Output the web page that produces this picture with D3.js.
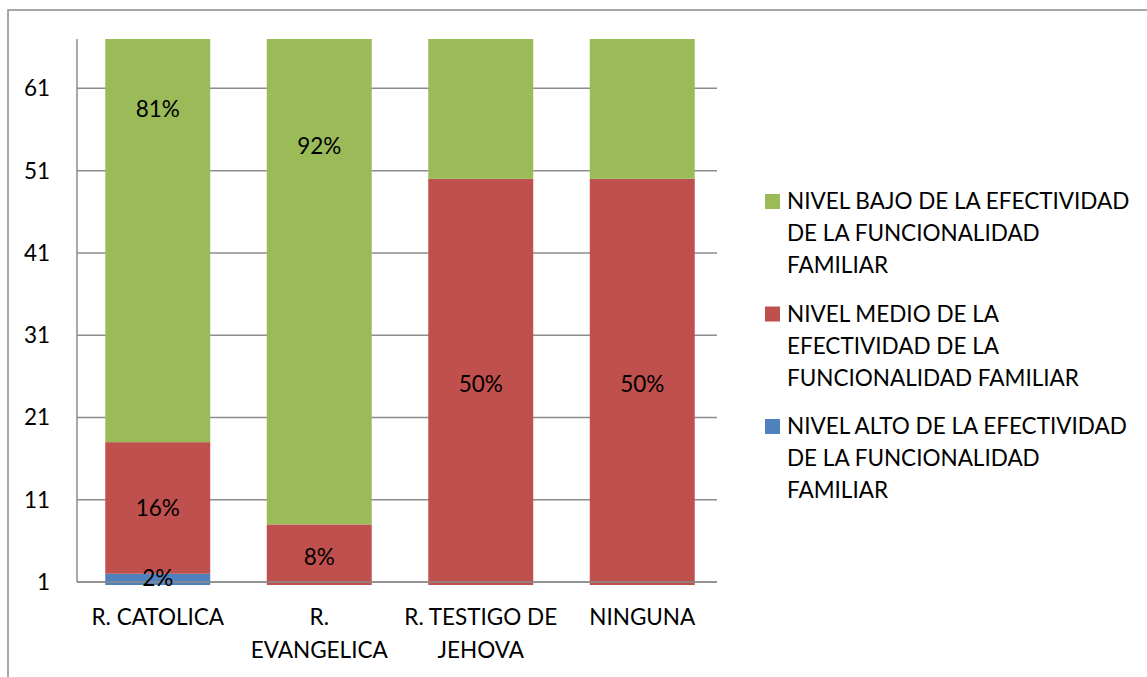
<!DOCTYPE html>
<html lang="es">
<head>
<meta charset="UTF-8">
<script src="https://d3js.org/d3.v7.min.js"></script>
<style>
  body { margin: 0; background: #fff; }
  svg text { font-family: Lato, "Open Sans", sans-serif; fill: #000; }
  .grid line { stroke: #8c8c8c; stroke-width: 1.5; }
</style>
</head>
<body>
<svg id="chart" width="1147" height="677"></svg>
<script>
// data (percentages per religion)
var categories = ["R. CATOLICA", "R. EVANGELICA", "R. TESTIGO DE JEHOVA", "NINGUNA"];
var tickLabels = [["R. CATOLICA"], ["R.", "EVANGELICA"], ["R. TESTIGO DE", "JEHOVA"], ["NINGUNA"]];
var alto  = [2, 0, 0, 0];
var medio = [16, 8, 50, 50];
var bajo  = [81, 92, 50, 50];
var seriesNames = [
  ["NIVEL BAJO DE LA EFECTIVIDAD", "DE LA FUNCIONALIDAD", "FAMILIAR"],
  ["NIVEL MEDIO DE LA", "EFECTIVIDAD DE LA", "FUNCIONALIDAD FAMILIAR"],
  ["NIVEL ALTO DE LA EFECTIVIDAD", "DE LA FUNCIONALIDAD", "FAMILIAR"]
];
var yTicks = [1, 11, 21, 31, 41, 51, 61];
var colors = { alto: "#4F81BD", medio: "#C0504D", bajo: "#9BBB59" };

var svg = d3.select("#chart");
var fs = 22.5;

// outer chart frame
svg.append("rect")
  .attr("x", 8).attr("y", 10).attr("width", 1150).attr("height", 680)
  .attr("fill", "none").attr("stroke", "#8c8c8c").attr("stroke-width", 1.5);

var pLeft = 77, pRight = 717, pTop = 39, pBottom = 582;

var x = d3.scaleBand().domain(categories).range([77, 723]).paddingInner(0.35).paddingOuter(0.175);
var y = d3.scaleLinear().domain([1, 67]).range([pBottom, pTop]);

// gridlines
svg.append("g").attr("class", "grid")
  .selectAll("line").data(yTicks).join("line")
  .attr("x1", pLeft).attr("x2", pRight)
  .attr("y1", function(d){ return y(d); }).attr("y2", function(d){ return y(d); });

// stacked data
var rows = categories.map(function(c, i){
  return { cat: c, alto: alto[i], medio: medio[i], bajo: bajo[i] };
});
var stack = d3.stack().keys(["alto", "medio", "bajo"]);
var layers = stack(rows);

svg.append("clipPath").attr("id", "plotclip")
  .append("rect").attr("x", pLeft).attr("y", pTop).attr("width", 700).attr("height", pBottom - pTop + 3);

var plot = svg.append("g").attr("clip-path", "url(#plotclip)");
plot.selectAll("g.layer").data(layers).join("g")
  .attr("class", "layer")
  .attr("fill", function(d){ return colors[d.key]; })
  .selectAll("rect").data(function(d){ return d; }).join("rect")
  .attr("x", function(d){ return x(d.data.cat); })
  .attr("width", x.bandwidth())
  .attr("y", function(d){ return y(Math.min(d[1], 80)); })
  .attr("height", function(d){ return Math.max(0, y(Math.max(d[0], -2)) - y(Math.min(d[1], 80))); });

// axis line (left) and base line
svg.append("line").attr("x1", pLeft).attr("x2", pLeft).attr("y1", pTop).attr("y2", pBottom)
  .attr("stroke", "#8c8c8c").attr("stroke-width", 1.5);
svg.append("line").attr("x1", pLeft).attr("x2", pRight).attr("y1", pBottom).attr("y2", pBottom)
  .attr("stroke", "#8c8c8c").attr("stroke-width", 1.5);

// data labels at segment centers, hidden when outside the axis range
layers.forEach(function(layer){
  layer.forEach(function(d){
    var v = d[1] - d[0];
    var mid = (d[0] + d[1]) / 2;
    if (v <= 0 || mid > 67 || mid < 0) return;
    svg.append("text")
      .attr("x", x(d.data.cat) + x.bandwidth() / 2)
      .attr("y", y(Math.max(mid, 1.5)))
      .attr("dy", "0.35em")
      .attr("text-anchor", "middle")
      .attr("font-size", fs)
      .text(v + "%");
  });
});

// y tick labels
svg.append("g").selectAll("text").data(yTicks).join("text")
  .attr("x", 50).attr("y", function(d){ return y(d); })
  .attr("dy", "0.35em").attr("text-anchor", "end").attr("font-size", fs)
  .text(function(d){ return d; });

// x category labels
categories.forEach(function(c, i){
  var t = svg.append("text")
    .attr("x", x(c) + x.bandwidth() / 2)
    .attr("y", 625)
    .attr("text-anchor", "middle").attr("font-size", fs);
  tickLabels[i].forEach(function(line, j){
    t.append("tspan").attr("x", x(c) + x.bandwidth() / 2).attr("dy", j === 0 ? 0 : 33).text(line);
  });
});

// legend
var legendKeys = ["bajo", "medio", "alto"];
legendKeys.forEach(function(k, i){
  var gy = 194 + i * 112.5;
  svg.append("rect").attr("x", 765).attr("y", gy).attr("width", 15).attr("height", 15).attr("fill", colors[k]);
  var t = svg.append("text").attr("x", 787).attr("y", gy + 15).attr("font-size", fs);
  seriesNames[i].forEach(function(line, j){
    t.append("tspan").attr("x", 787).attr("dy", j === 0 ? 0 : 32).text(line);
  });
});
</script>
</body>
</html>
